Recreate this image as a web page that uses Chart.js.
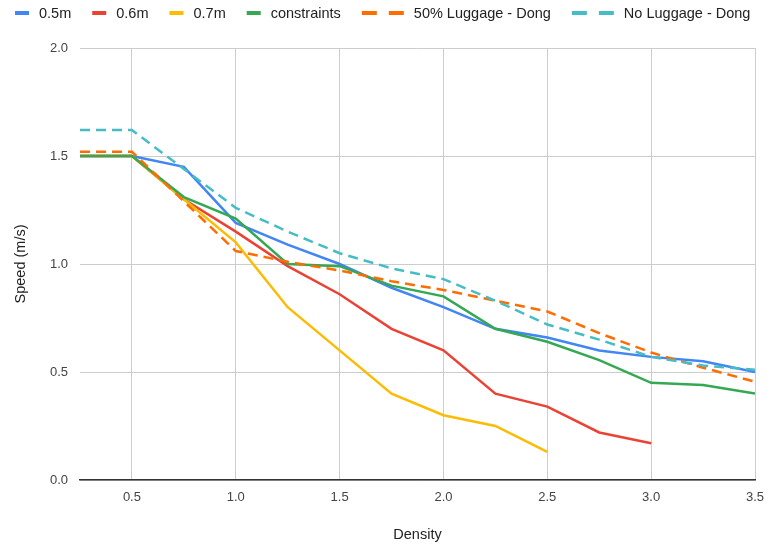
<!DOCTYPE html>
<html><head><meta charset="utf-8">
<script src="https://cdn.jsdelivr.net/npm/chart.js@4"></script>
<style>html,body{margin:0;padding:0;background:#fff}canvas{display:block}</style>
</head><body>
<canvas id="c" width="767" height="546"></canvas>
<script>
const densities = [0.25,0.5,0.75,1.0,1.25,1.5,1.75,2.0,2.25,2.5,2.75,3.0,3.25,3.5];
const seriesNames = ['0.5m','0.6m','0.7m','constraints','50% Luggage - Dong','No Luggage - Dong'];
const speed05 = [1.5,1.5,1.45,1.19,1.09,1.0,0.89,0.8,0.7,0.66,0.6,0.57,0.55,0.5];
const speed06 = [1.5,1.5,1.3,1.15,0.99,0.86,0.7,0.6,0.4,0.34,0.22,0.17,null,null];
const speed07 = [1.5,1.5,1.3,1.1,0.8,0.6,0.4,0.3,0.25,0.13,null,null,null,null];
const speedConstraints = [1.5,1.5,1.31,1.21,1.0,0.99,0.9,0.85,0.7,0.64,0.555,0.45,0.44,0.4];
const speedLuggage50 = [1.52,1.52,1.29,1.06,1.01,0.97,0.92,0.88,0.83,0.78,0.68,0.59,0.52,0.455];
const speedNoLuggage = [1.62,1.62,1.44,1.26,1.15,1.05,0.98,0.93,0.83,0.72,0.65,0.57,0.53,0.51];
const xTickValues = [0.5,1.0,1.5,2.0,2.5,3.0,3.5];
const yTickValues = [0,0.5,1.0,1.5,2.0];

const allSeries = [speed05, speed06, speed07, speedConstraints, speedLuggage50, speedNoLuggage];
const colors = ['#4285F4','#EA4335','#FBBC04','#34A853','#FF6D01','#46BDC6'];
const dashed = [false,false,false,false,true,true];
const FONT = "'Liberation Sans', Arial, sans-serif";

const datasets = allSeries.map((vals, i) => ({
  label: seriesNames[i],
  data: densities.map((d, j) => ({x: d, y: vals[j]})),
  borderColor: colors[i],
  backgroundColor: colors[i],
  borderWidth: 2.5,
  borderDash: dashed[i] ? [10,6] : [],
  pointRadius: 0,
  pointHoverRadius: 0,
  tension: 0,
  spanGaps: false,
  fill: false,
  order: allSeries.length - i
}));

const legendPlugin = {
  id: 'customLegend',
  afterDraw(chart) {
    const ctx = chart.ctx;
    ctx.save();
    ctx.font = '14.5px ' + FONT;
    ctx.textBaseline = 'middle';
    let x = 15;
    const y = 13;
    chart.data.datasets.forEach((ds, i) => {
      ctx.fillStyle = ds.borderColor;
      if (dashed[i]) {
        ctx.fillRect(x, y - 2, 15, 4);
        ctx.fillRect(x + 27, y - 2, 15, 4);
        x += 42;
      } else {
        ctx.fillRect(x, y - 2, 14, 4);
        x += 14;
      }
      x += 10;
      ctx.fillStyle = '#222';
      ctx.fillText(ds.label, x, y + 0.5);
      x += ctx.measureText(ds.label).width + 21;
    });
    ctx.restore();
  }
};

new Chart(document.getElementById('c'), {
  type: 'line',
  data: { datasets },
  plugins: [legendPlugin],
  options: {
    responsive: false,
    animation: false,
    events: [],
    layout: { padding: { top: 48, right: 12, left: 0, bottom: 0 } },
    plugins: { legend: { display: false }, tooltip: { enabled: false } },
    scales: {
      x: {
        type: 'linear',
        min: 0.25, max: 3.5,
        afterBuildTicks: s => { s.ticks = xTickValues.map(v => ({value: v})); },
        afterFit: s => { s.height = 66; s.paddingRight = 0; s.paddingLeft = 0; },
        grid: { color: '#cccccc', drawTicks: false, lineWidth: 1 },
        border: { display: true, color: '#333333', width: 1.5 },
        ticks: { font: { family: FONT, size: 13 }, color: '#444', padding: 10, maxRotation: 0,
          callback: v => Number(v).toFixed(1) },
        title: { display: true, text: 'Density', font: { family: FONT, size: 14.5 }, color: '#222',
          padding: { top: 0, bottom: 2 } }
      },
      y: {
        min: 0, max: 2,
        afterBuildTicks: s => { s.ticks = yTickValues.map(v => ({value: v})); },
        afterFit: s => { s.width = 80; s.paddingTop = 0; s.paddingBottom = 0; },
        grid: { color: '#cccccc', drawTicks: false, lineWidth: 1 },
        border: { display: false },
        ticks: { font: { family: FONT, size: 13 }, color: '#444', padding: 12,
          callback: v => Number(v).toFixed(1) },
        title: { display: true, text: 'Speed (m/s)', font: { family: FONT, size: 14.5 }, color: '#222',
          padding: { top: 12, bottom: 0 } }
      }
    }
  }
});
</script>
</body></html>
